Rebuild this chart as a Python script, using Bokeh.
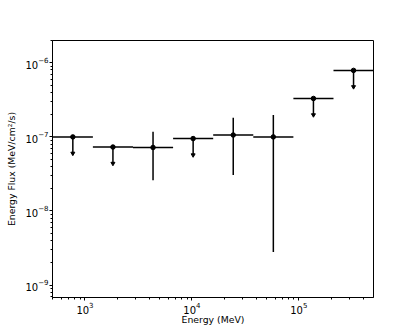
import numpy as np
from bokeh.plotting import figure
from bokeh.models import LogTickFormatter, LogTicker
from bokeh.embed import file_html
from bokeh.resources import INLINE

# Energy bins (MeV)
e_lo = [500, 1186, 2812, 6669, 15811, 37494, 88914, 210848]
e_hi = [1186, 2812, 6669, 15811, 37494, 88914, 210848, 500000]
e_ctr = [770, 1826, 4330, 10268, 24350, 57742, 136920, 324700]
# Energy flux (MeV/cm2/s)
flux = [1.0e-7, 7.3e-8, 7.2e-8, 9.5e-8, 1.06e-7, 1.0e-7, 3.3e-7, 7.9e-7]
is_ul = [True, True, False, True, False, False, True, True]
flux_lo = [None, None, 2.6e-8, None, 3.05e-8, 2.8e-9, None, None]
flux_hi = [None, None, 1.17e-7, None, 1.82e-7, 1.98e-7, None, None]
ul_factor = 0.6

p = figure(width=415, height=334, x_axis_type="log", y_axis_type="log",
           x_range=(497, 499000), y_range=(6.8e-10, 2.0e-6),
           output_backend="svg", toolbar_location=None,
           min_border_left=52, min_border_right=42, min_border_top=40, min_border_bottom=37)

p.background_fill_color = "white"
p.border_fill_color = "white"
p.outline_line_color = "black"
p.outline_line_width = 1
p.grid.visible = False

# horizontal bin bars
p.segment(x0=e_lo, x1=e_hi, y0=flux, y1=flux, line_color="black", line_width=1.5)

# error bars for detections
det_x = [e_ctr[i] for i in range(8) if not is_ul[i]]
det_lo = [flux_lo[i] for i in range(8) if not is_ul[i]]
det_hi = [flux_hi[i] for i in range(8) if not is_ul[i]]
p.segment(x0=det_x, x1=det_x, y0=det_lo, y1=det_hi, line_color="black", line_width=1.5)

# upper limit arrows
ul_x = [e_ctr[i] for i in range(8) if is_ul[i]]
ul_y = [flux[i] for i in range(8) if is_ul[i]]
ul_end = [v * ul_factor for v in ul_y]
p.segment(x0=ul_x, x1=ul_x, y0=ul_y, y1=ul_end, line_color="black", line_width=1.5)
p.scatter(x=ul_x, y=ul_end, marker="inverted_triangle", size=4, color="black")

# points
p.scatter(x=e_ctr, y=flux, marker="circle", size=4.5, color="black")

for ax in (p.xaxis[0], p.yaxis[0]):
    ax.formatter = LogTickFormatter()
    ax.ticker = LogTicker(num_minor_ticks=10)
    ax.major_label_text_font = "DejaVu Sans"
    ax.major_label_text_font_size = "10px"
    ax.major_label_text_color = "black"
    ax.axis_label_text_font = "DejaVu Sans"
    ax.axis_label_text_font_size = "9.3px"
    ax.axis_label_text_font_style = "normal"
    ax.axis_label_text_color = "black"
    ax.major_tick_out = 3
    ax.major_tick_in = 0
    ax.minor_tick_out = 2
    ax.minor_tick_in = 0
    ax.axis_line_color = "black"

p.xaxis.major_label_standoff = 1
p.xaxis.axis_label_standoff = -3
p.yaxis.major_label_standoff = 1
p.yaxis.axis_label_standoff = 5

p.xaxis.axis_label = "Energy (MeV)"
p.yaxis.axis_label = "Energy Flux (MeV/cm\u00b2/s)"
p.yaxis.major_label_orientation = "horizontal"

open("out.html", "w").write(file_html(p, INLINE))
